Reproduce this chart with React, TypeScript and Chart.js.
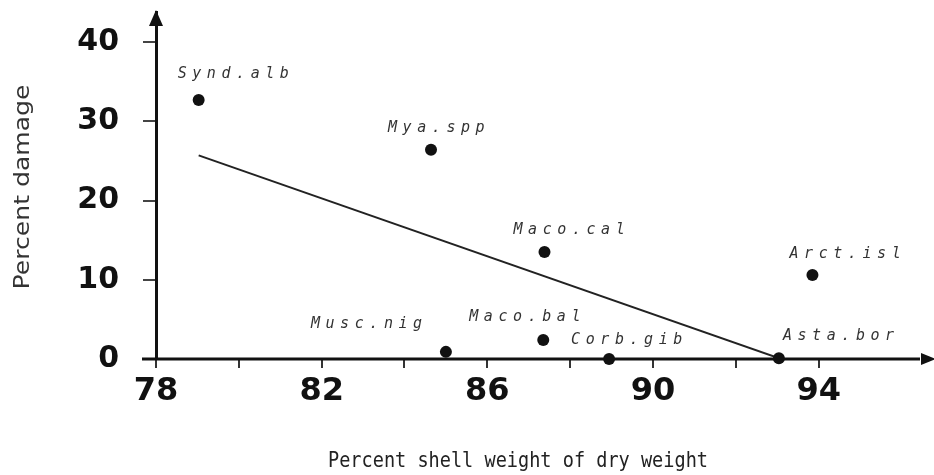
import { useEffect, useRef } from "react";
import { Chart, registerables } from "chart.js";

Chart.register(...registerables);

// ---- data ----
const species = ["Synd.alb", "Mya.spp", "Maco.cal", "Arct.isl", "Musc.nig", "Maco.bal", "Corb.gib", "Asta.bor"];
const shellWeight = [79.03, 84.64, 87.38, 93.85, 85.0, 87.35, 88.94, 93.04];
const damage = [32.7, 26.4, 13.5, 10.6, 0.9, 2.4, 0.0, 0.1];
const trendX = [79.03, 93.04];
const trendY = [25.7, 0.1];
const xTickMarks = [78, 80, 82, 84, 86, 88, 90, 92, 94];
const xTickLabels = [78, 82, 86, 90, 94];
const yTickLabels = [0, 10, 20, 30, 40];
const xRange = [78, 96.64];
const yRange = [0, 43.8];
const xTitle = "Percent shell weight of dry weight";
const yTitle = "Percent damage";

// ---- label placement (style, pixels relative to each point) ----
const labelOffsets = [
  [-21, -26],
  [-43, -22],
  [-31, -22],
  [-23, -21],
  [-135, -28],
  [-74, -23],
  [-38, -19],
  [4, -22],
];
const labelStep = 14.6;

const decor = {
  id: "decor",
  beforeDatasetsDraw(chart: any) {
    const { ctx, chartArea, scales } = chart;
    const y0 = scales.y.getPixelForValue(0);
    ctx.save();
    ctx.strokeStyle = "#111";
    ctx.fillStyle = "#111";
    ctx.lineWidth = 3;
    ctx.beginPath();
    ctx.moveTo(chartArea.left - 14, y0);
    ctx.lineTo(chartArea.right - 8, y0);
    ctx.stroke();
    // x arrow
    ctx.beginPath();
    ctx.moveTo(chartArea.right + 8, y0);
    ctx.lineTo(chartArea.right - 7, y0 - 6);
    ctx.lineTo(chartArea.right - 7, y0 + 6);
    ctx.closePath();
    ctx.fill();
    // y arrow
    const xl = chartArea.left;
    ctx.beginPath();
    ctx.moveTo(xl, chartArea.top - 2);
    ctx.lineTo(xl - 7, chartArea.top + 14);
    ctx.lineTo(xl + 7, chartArea.top + 14);
    ctx.closePath();
    ctx.fill();
    ctx.restore();
  },
  afterDraw(chart: any) {
    const { ctx, scales } = chart;
    ctx.save();
    ctx.font = 'italic 15px "DejaVu Sans Mono"';
    ctx.fillStyle = "#333";
    ctx.textBaseline = "middle";
    ctx.textAlign = "left";
    species.forEach((s, i) => {
      const px = scales.x.getPixelForValue(shellWeight[i]);
      const py = scales.y.getPixelForValue(damage[i]);
      const [dx, dy] = labelOffsets[i];
      for (let k = 0; k < s.length; k++) {
        ctx.fillText(s[k], px + dx + k * labelStep, py + dy);
      }
    });
    ctx.restore();

    // y title
    ctx.save();
    ctx.fillStyle = "#333";
    ctx.font = '22px "DejaVu Sans"';
    ctx.textAlign = "center";
    ctx.textBaseline = "middle";
    ctx.translate(23, 187);
    ctx.rotate(-Math.PI / 2);
    const wy = ctx.measureText(yTitle).width;
    ctx.scale(205 / wy, 1);
    ctx.fillText(yTitle, 0, 0);
    ctx.restore();

    // x title
    ctx.save();
    ctx.fillStyle = "#222";
    ctx.font = '22px "DejaVu Sans Mono"';
    ctx.textAlign = "center";
    ctx.textBaseline = "middle";
    ctx.translate(518, 461);
    const wx = ctx.measureText(xTitle).width;
    ctx.scale(380 / wx, 1);
    ctx.fillText(xTitle, 0, 0);
    ctx.restore();
  },
};

export default function App() {
  const ref = useRef<HTMLCanvasElement | null>(null);
  useEffect(() => {
    if (!ref.current) return;
    const chart = new Chart(ref.current, {
      type: "scatter",
      data: {
        datasets: [
          {
            type: "scatter",
            data: shellWeight.map((v, i) => ({ x: v, y: damage[i] })),
            pointRadius: 6,
            pointBackgroundColor: "#111",
            pointBorderColor: "#111",
            pointBorderWidth: 0,
            clip: false as any,
            order: 1,
          },
          {
            type: "line",
            data: trendX.map((v, i) => ({ x: v, y: trendY[i] })),
            borderColor: "#222",
            borderWidth: 2,
            pointRadius: 0,
            fill: false,
            order: 2,
          },
        ],
      },
      options: {
        responsive: false,
        animation: false,
        layout: { padding: { top: 12, left: 0, right: 0, bottom: 0 } },
        plugins: { legend: { display: false }, tooltip: { enabled: false } },
        scales: {
          x: {
            type: "linear",
            min: xRange[0],
            max: xRange[1],
            afterFit: (s: any) => {
              s.height = 116;
              s.paddingLeft = 0;
              s.paddingRight = 0;
              s.paddingTop = 0;
              s.paddingBottom = 0;
            },
            afterBuildTicks: (s: any) => {
              s.ticks = xTickMarks.map((v) => ({ value: v }));
            },
            ticks: {
              autoSkip: false,
              maxRotation: 0,
              padding: 4,
              color: "#111",
              font: { family: "DejaVu Sans", size: 32, weight: "bold" },
              callback: (v: any) => (xTickLabels.includes(Number(v)) ? String(v) : ""),
            },
            grid: {
              display: true,
              drawOnChartArea: false,
              drawTicks: true,
              tickLength: 9,
              lineWidth: 2,
              color: "#333",
            },
            border: { display: false },
          },
          y: {
            type: "linear",
            min: yRange[0],
            max: yRange[1],
            afterFit: (s: any) => {
              s.width = 156;
              s.paddingTop = 0;
              s.paddingBottom = 0;
              s.paddingLeft = 0;
              s.paddingRight = 0;
            },
            afterBuildTicks: (s: any) => {
              s.ticks = yTickLabels.map((v) => ({ value: v }));
            },
            ticks: {
              autoSkip: false,
              padding: 24,
              color: "#111",
              font: { family: "DejaVu Sans", size: 30, weight: "bold" },
              callback: (v: any) => String(v),
            },
            grid: {
              display: true,
              drawOnChartArea: false,
              drawTicks: true,
              tickLength: 13,
              lineWidth: 2,
              color: "#444",
            },
            border: { display: true, width: 3, color: "#111" },
          },
        },
      },
      plugins: [decor],
    } as any);
    return () => chart.destroy();
  }, []);
  return (
    <div style={{ position: "fixed", left: 0, top: 0, width: 934, height: 475, background: "#fff" }}>
      <canvas ref={ref} width={934} height={475} style={{ display: "block" }} />
    </div>
  );
}
